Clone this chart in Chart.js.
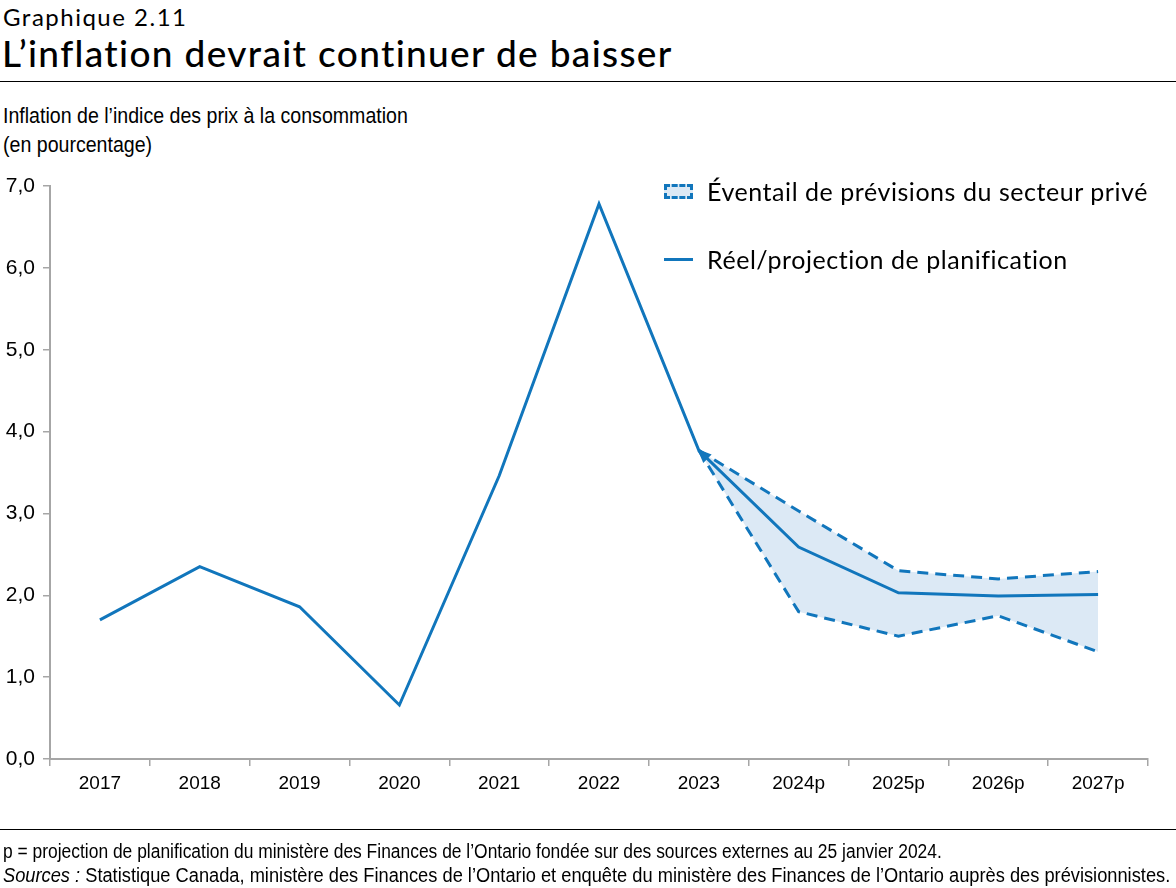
<!DOCTYPE html>
<html lang="fr">
<head>
<meta charset="utf-8">
<script src="https://cdn.jsdelivr.net/npm/chart.js@4.4.1/dist/chart.umd.min.js"></script>
<style>
  html, body { margin: 0; padding: 0; background: #fff; }
  body { width: 1176px; height: 888px; position: relative; overflow: hidden; font-family: "Liberation Sans", Arial, sans-serif; color: #000; }
  .abs { position: absolute; white-space: nowrap; transform-origin: 0 0; }
  #sup { left: 3px; top: 2px; font-family: Lato, "Open Sans", sans-serif; font-size: 24px; letter-spacing: 1.5px; }
  #title { left: 2px; top: 30px; font-family: Lato, "Open Sans", sans-serif; font-size: 37px; font-weight: 500; letter-spacing: 1.35px; }
  .rule { position: absolute; left: 0; width: 1176px; height: 1px; background: #000; }
  #ytitle { left: 3px; top: 101px; font-size: 22px; line-height: 29px; transform: scaleX(0.89); }
  .foot { left: 3px; font-size: 20px; line-height: 24px; }
  #foot1 { top: 839px; transform: scaleX(0.871); }
  #foot2 { top: 863px; transform: scaleX(0.913); }
  #chartbox { position: absolute; left: 0; top: 0; width: 1176px; height: 888px; }
  .leg { position: absolute; left: 664px; font-family: Lato, "Open Sans", sans-serif; font-size: 25px; letter-spacing: 0.55px; display: flex; align-items: center; }
  .sw-band { width: 29px; height: 15px; box-sizing: border-box; border: 3px dashed #1176BC; background: #DCE9F5; margin-right: 14px; }
  .sw-line { width: 29px; height: 3px; background: #1176BC; margin-right: 14px; }
</style>
</head>
<body>
<div id="sup" class="abs">Graphique 2.11</div>
<div id="title" class="abs">L’inflation devrait continuer de baisser</div>
<div class="rule" style="top:81px"></div>
<div id="ytitle" class="abs">Inflation de l’indice des prix à la consommation<br>(en pourcentage)</div>
<div id="chartbox"><canvas id="c"></canvas></div>
<div class="leg" style="top:176px"><span class="sw-band"></span><span>Éventail de prévisions du secteur privé</span></div>
<div class="leg" style="top:244px"><span class="sw-line"></span><span>Réel/projection de planification</span></div>
<div class="rule" style="top:829px"></div>
<div id="foot1" class="abs foot">p = projection de planification du ministère des Finances de l’Ontario fondée sur des sources externes au 25 janvier 2024.</div>
<div id="foot2" class="abs foot"><i>Sources :</i> Statistique Canada, ministère des Finances de l’Ontario et enquête du ministère des Finances de l’Ontario auprès des prévisionnistes.</div>
<script>
const categories = ["2017", "2018", "2019", "2020", "2021", "2022", "2023", "2024p", "2025p", "2026p", "2027p"];
const actualPlanning = [1.70, 2.35, 1.86, 0.66, 3.46, 6.78, 3.77, 2.59, 2.03, 1.99, 2.01];
const rangeHigh = [null, null, null, null, null, null, 3.77, 3.03, 2.30, 2.20, 2.29];
const rangeLow  = [null, null, null, null, null, null, 3.77, 1.80, 1.50, 1.75, 1.31];
const yTickLabels = ["0,0", "1,0", "2,0", "3,0", "4,0", "5,0", "6,0", "7,0"];

const BLUE = "#1176BC";
const FILL = "#DCE9F5";
const GRAY = "#A6A6A6";
const xFont = { family: "'Liberation Sans', Arial, sans-serif", size: 19 };
const yFont = { family: "'Liberation Sans', Arial, sans-serif", size: 21 };

const arrowPlugin = {
  id: "arrowHead",
  afterDatasetsDraw(chart) {
    const meta = chart.getDatasetMeta(0);
    const a = meta.data[6], b = meta.data[7];
    if (!a || !b) return;
    const ctx = chart.ctx;
    const ang = Math.atan2(a.y - b.y, a.x - b.x);
    const len = 14, half = 6;
    ctx.save();
    ctx.translate(a.x, a.y);
    ctx.rotate(ang);
    ctx.beginPath();
    ctx.moveTo(2, 0);
    ctx.lineTo(2 - len, -half);
    ctx.lineTo(2 - len, half);
    ctx.closePath();
    ctx.fillStyle = BLUE;
    ctx.fill();
    ctx.restore();
  }
};

new Chart(document.getElementById("c"), {
  type: "line",
  data: {
    labels: categories,
    datasets: [
      { label: "Réel/projection de planification", data: actualPlanning, borderColor: BLUE, borderWidth: 3, pointRadius: 0, fill: false, tension: 0, order: 0 },
      { label: "Éventail haut", data: rangeHigh, borderColor: BLUE, borderWidth: 3, borderDash: [11, 7], pointRadius: 0, fill: false, tension: 0, order: 1 },
      { label: "Éventail de prévisions du secteur privé", data: rangeLow, borderColor: BLUE, borderWidth: 3, borderDash: [11, 7], pointRadius: 0, fill: "-1", backgroundColor: FILL, tension: 0, order: 2 }
    ]
  },
  options: {
    responsive: true,
    maintainAspectRatio: false,
    animation: false,
    layout: { padding: { top: 186, bottom: 69, left: 0, right: 28 } },
    plugins: { legend: { display: false }, tooltip: { enabled: false }, title: { display: false } },
    scales: {
      x: {
        type: "category",
        offset: true,
        grid: { offset: true, drawOnChartArea: false, drawTicks: true, tickLength: 7, color: GRAY, lineWidth: 1.5 },
        border: { display: true, color: GRAY, width: 2 },
        ticks: { color: "#000", font: xFont, padding: 6, maxRotation: 0, autoSkip: false },
        afterFit(s) { s.height = 60; }
      },
      y: {
        min: 0, max: 7,
        grid: { drawOnChartArea: false, drawTicks: true, tickLength: 7, color: GRAY, lineWidth: 1.5 },
        border: { display: true, color: GRAY, width: 2 },
        ticks: { stepSize: 1, color: "#000", font: yFont, padding: 8, callback: (v) => yTickLabels[Math.round(v)] },
        afterFit(s) { s.width = 50; }
      }
    }
  },
  plugins: [arrowPlugin]
});
</script>
</body>
</html>
